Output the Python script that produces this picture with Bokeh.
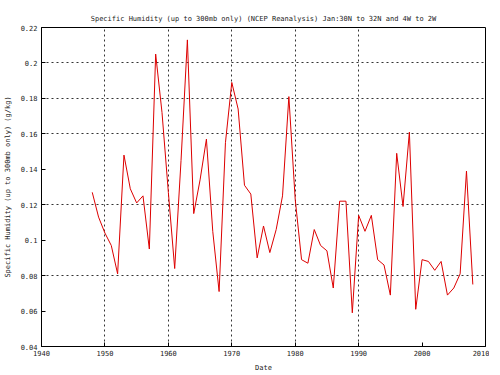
from bokeh.plotting import figure
from bokeh.models import Range1d, FixedTicker, NumeralTickFormatter
from bokeh.embed import file_html
from bokeh.resources import INLINE

years = list(range(1948, 2009))
humidity = [
    0.127, 0.113, 0.104, 0.097, 0.081, 0.148, 0.129, 0.121, 0.125, 0.095,
    0.205, 0.172, 0.127, 0.084, 0.145, 0.213, 0.115, 0.134, 0.157, 0.105,
    0.071, 0.155, 0.189, 0.174, 0.131, 0.126, 0.090, 0.108, 0.093, 0.106,
    0.125, 0.181, 0.123, 0.089, 0.087, 0.106, 0.097, 0.094, 0.073, 0.122,
    0.122, 0.059, 0.114, 0.105, 0.114, 0.089, 0.086, 0.069, 0.149, 0.119,
    0.161, 0.061, 0.089, 0.088, 0.083, 0.088, 0.069, 0.073, 0.081, 0.139,
    0.075,
]
x_ticks = [1940, 1950, 1960, 1970, 1980, 1990, 2000, 2010]
y_ticks = [0.04, 0.06, 0.08, 0.1, 0.12, 0.14, 0.16, 0.18, 0.2, 0.22]
x_grid = [1950, 1960, 1970, 1980, 1990]
y_grid = [0.08, 0.12, 0.16, 0.18, 0.2]

title = "Specific Humidity (up to 300mb only) (NCEP Reanalysis) Jan:30N to 32N and 4W to 2W"
FONT = "DejaVu Sans Mono"

p = figure(frame_width=444, frame_height=319, output_backend="svg", toolbar_location=None,
           x_range=Range1d(1940, 2010), y_range=Range1d(0.04, 0.22),
           min_border_left=41, min_border_right=4, min_border_top=27, min_border_bottom=25,
           title=title)
p.title.text_font = FONT
p.title.text_font_size = "7px"
p.title.text_font_style = "normal"
p.title.align = "center"
p.title.text_color = "#222222"
p.title.offset = -14
p.title.standoff = 10

p.outline_line_color = "black"
p.outline_line_width = 1
p.background_fill_color = "white"
p.border_fill_color = "white"

for ax in (p.xaxis[0], p.yaxis[0]):
    ax.major_tick_in = 4
    ax.major_tick_out = 0
    ax.minor_tick_in = 0
    ax.minor_tick_out = 0
    ax.axis_line_color = "black"
    ax.major_tick_line_color = "black"
    ax.major_label_text_font = FONT
    ax.major_label_text_font_size = "7px"
    ax.major_label_text_color = "#222222"
    ax.axis_label_text_font = FONT
    ax.axis_label_text_font_size = "7px"
    ax.axis_label_text_font_style = "normal"
    ax.axis_label_text_color = "#222222"

p.xaxis.ticker = FixedTicker(ticks=x_ticks)
p.yaxis.ticker = FixedTicker(ticks=y_ticks)
p.yaxis.formatter = NumeralTickFormatter(format="0.[00]")
p.xaxis.axis_label = "Date"
p.yaxis.axis_label = "Specific Humidity (up to 300mb only) (g/kg)"
p.xaxis.major_label_standoff = 3
p.yaxis.major_label_standoff = 4
p.xaxis.axis_label_standoff = 5
p.yaxis.axis_label_standoff = 6

p.xgrid.ticker = FixedTicker(ticks=x_grid)
p.ygrid.ticker = FixedTicker(ticks=y_grid)
for g in (p.xgrid[0], p.ygrid[0]):
    g.grid_line_color = "black"
    g.grid_line_dash = "2 3"
    g.grid_line_width = 1
    g.grid_line_alpha = 0.8

p.line(years, humidity, line_color="#dd0000", line_width=1)

open("out.html", "w").write(file_html(p, INLINE))
